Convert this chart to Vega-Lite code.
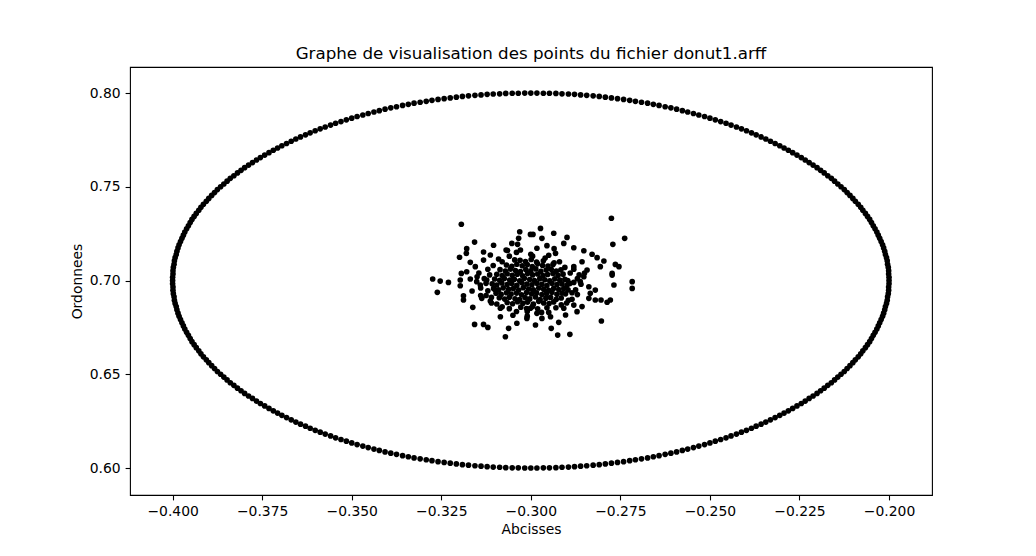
{
"$schema": "https://vega.github.io/schema/vega-lite/v6.json",
"width": 802, "height": 428,
"autosize": {"type": "none"},
"padding": {"left": 130, "top": 67, "right": 104, "bottom": 61},
"background": "white",
"title": {"text": "Graphe de visualisation des points du fichier donut1.arff", "font": "DejaVu Sans", "fontSize": 16.7, "fontWeight": "normal", "color": "black", "offset": 4.5, "anchor": "middle"},
"config": {
 "view": {"stroke": "black", "strokeWidth": 1.1},
 "axis": {"domain": false, "grid": false, "labelFont": "DejaVu Sans", "labelFontSize": 13.9, "labelColor": "black", "tickColor": "black", "tickSize": 4.9, "tickWidth": 1.1, "labelPadding": 4.9, "labelOverlap": false, "titleFont": "DejaVu Sans", "titleFontSize": 13.9, "titleFontWeight": "normal", "titleColor": "black"}
},
"data": {"values": [
{"x":-0.2,"y":0.7},{"x":-0.4,"y":0.7},
{"x":-0.2,"y":0.7017},{"x":-0.4,"y":0.7017},{"x":-0.4,"y":0.6983},{"x":-0.2,"y":0.6983},
{"x":-0.2001,"y":0.7035},{"x":-0.3999,"y":0.7035},{"x":-0.3999,"y":0.6965},{"x":-0.2001,"y":0.6965},
{"x":-0.2001,"y":0.7052},{"x":-0.3999,"y":0.7052},{"x":-0.3999,"y":0.6948},{"x":-0.2001,"y":0.6948},
{"x":-0.2002,"y":0.707},{"x":-0.3998,"y":0.707},{"x":-0.3998,"y":0.693},{"x":-0.2002,"y":0.693},
{"x":-0.2004,"y":0.7087},{"x":-0.3996,"y":0.7087},{"x":-0.3996,"y":0.6913},{"x":-0.2004,"y":0.6913},
{"x":-0.2005,"y":0.7105},{"x":-0.3995,"y":0.7105},{"x":-0.3995,"y":0.6895},{"x":-0.2005,"y":0.6895},
{"x":-0.2007,"y":0.7122},{"x":-0.3993,"y":0.7122},{"x":-0.3993,"y":0.6878},{"x":-0.2007,"y":0.6878},
{"x":-0.201,"y":0.7139},{"x":-0.399,"y":0.7139},{"x":-0.399,"y":0.6861},{"x":-0.201,"y":0.6861},
{"x":-0.2012,"y":0.7156},{"x":-0.3988,"y":0.7156},{"x":-0.3988,"y":0.6844},{"x":-0.2012,"y":0.6844},
{"x":-0.2015,"y":0.7174},{"x":-0.3985,"y":0.7174},{"x":-0.3985,"y":0.6826},{"x":-0.2015,"y":0.6826},
{"x":-0.2018,"y":0.7191},{"x":-0.3982,"y":0.7191},{"x":-0.3982,"y":0.6809},{"x":-0.2018,"y":0.6809},
{"x":-0.2022,"y":0.7208},{"x":-0.3978,"y":0.7208},{"x":-0.3978,"y":0.6792},{"x":-0.2022,"y":0.6792},
{"x":-0.2026,"y":0.7225},{"x":-0.3974,"y":0.7225},{"x":-0.3974,"y":0.6775},{"x":-0.2026,"y":0.6775},
{"x":-0.203,"y":0.7242},{"x":-0.397,"y":0.7242},{"x":-0.397,"y":0.6758},{"x":-0.203,"y":0.6758},
{"x":-0.2034,"y":0.7259},{"x":-0.3966,"y":0.7259},{"x":-0.3966,"y":0.6741},{"x":-0.2034,"y":0.6741},
{"x":-0.2039,"y":0.7276},{"x":-0.3961,"y":0.7276},{"x":-0.3961,"y":0.6724},{"x":-0.2039,"y":0.6724},
{"x":-0.2044,"y":0.7292},{"x":-0.3956,"y":0.7292},{"x":-0.3956,"y":0.6708},{"x":-0.2044,"y":0.6708},
{"x":-0.2049,"y":0.7309},{"x":-0.3951,"y":0.7309},{"x":-0.3951,"y":0.6691},{"x":-0.2049,"y":0.6691},
{"x":-0.2054,"y":0.7326},{"x":-0.3946,"y":0.7326},{"x":-0.3946,"y":0.6674},{"x":-0.2054,"y":0.6674},
{"x":-0.206,"y":0.7342},{"x":-0.394,"y":0.7342},{"x":-0.394,"y":0.6658},{"x":-0.206,"y":0.6658},
{"x":-0.2066,"y":0.7358},{"x":-0.3934,"y":0.7358},{"x":-0.3934,"y":0.6642},{"x":-0.2066,"y":0.6642},
{"x":-0.2073,"y":0.7375},{"x":-0.3927,"y":0.7375},{"x":-0.3927,"y":0.6625},{"x":-0.2073,"y":0.6625},
{"x":-0.2079,"y":0.7391},{"x":-0.3921,"y":0.7391},{"x":-0.3921,"y":0.6609},{"x":-0.2079,"y":0.6609},
{"x":-0.2086,"y":0.7407},{"x":-0.3914,"y":0.7407},{"x":-0.3914,"y":0.6593},{"x":-0.2086,"y":0.6593},
{"x":-0.2094,"y":0.7423},{"x":-0.3906,"y":0.7423},{"x":-0.3906,"y":0.6577},{"x":-0.2094,"y":0.6577},
{"x":-0.2101,"y":0.7438},{"x":-0.3899,"y":0.7438},{"x":-0.3899,"y":0.6562},{"x":-0.2101,"y":0.6562},
{"x":-0.2109,"y":0.7454},{"x":-0.3891,"y":0.7454},{"x":-0.3891,"y":0.6546},{"x":-0.2109,"y":0.6546},
{"x":-0.2117,"y":0.7469},{"x":-0.3883,"y":0.7469},{"x":-0.3883,"y":0.6531},{"x":-0.2117,"y":0.6531},
{"x":-0.2125,"y":0.7485},{"x":-0.3875,"y":0.7485},{"x":-0.3875,"y":0.6515},{"x":-0.2125,"y":0.6515},
{"x":-0.2134,"y":0.75},{"x":-0.3866,"y":0.75},{"x":-0.3866,"y":0.65},{"x":-0.2134,"y":0.65},
{"x":-0.2143,"y":0.7515},{"x":-0.3857,"y":0.7515},{"x":-0.3857,"y":0.6485},{"x":-0.2143,"y":0.6485},
{"x":-0.2152,"y":0.753},{"x":-0.3848,"y":0.753},{"x":-0.3848,"y":0.647},{"x":-0.2152,"y":0.647},
{"x":-0.2161,"y":0.7545},{"x":-0.3839,"y":0.7545},{"x":-0.3839,"y":0.6455},{"x":-0.2161,"y":0.6455},
{"x":-0.2171,"y":0.7559},{"x":-0.3829,"y":0.7559},{"x":-0.3829,"y":0.6441},{"x":-0.2171,"y":0.6441},
{"x":-0.2181,"y":0.7574},{"x":-0.3819,"y":0.7574},{"x":-0.3819,"y":0.6426},{"x":-0.2181,"y":0.6426},
{"x":-0.2191,"y":0.7588},{"x":-0.3809,"y":0.7588},{"x":-0.3809,"y":0.6412},{"x":-0.2191,"y":0.6412},
{"x":-0.2201,"y":0.7602},{"x":-0.3799,"y":0.7602},{"x":-0.3799,"y":0.6398},{"x":-0.2201,"y":0.6398},
{"x":-0.2212,"y":0.7616},{"x":-0.3788,"y":0.7616},{"x":-0.3788,"y":0.6384},{"x":-0.2212,"y":0.6384},
{"x":-0.2223,"y":0.7629},{"x":-0.3777,"y":0.7629},{"x":-0.3777,"y":0.6371},{"x":-0.2223,"y":0.6371},
{"x":-0.2234,"y":0.7643},{"x":-0.3766,"y":0.7643},{"x":-0.3766,"y":0.6357},{"x":-0.2234,"y":0.6357},
{"x":-0.2245,"y":0.7656},{"x":-0.3755,"y":0.7656},{"x":-0.3755,"y":0.6344},{"x":-0.2245,"y":0.6344},
{"x":-0.2257,"y":0.7669},{"x":-0.3743,"y":0.7669},{"x":-0.3743,"y":0.6331},{"x":-0.2257,"y":0.6331},
{"x":-0.2269,"y":0.7682},{"x":-0.3731,"y":0.7682},{"x":-0.3731,"y":0.6318},{"x":-0.2269,"y":0.6318},
{"x":-0.2281,"y":0.7695},{"x":-0.3719,"y":0.7695},{"x":-0.3719,"y":0.6305},{"x":-0.2281,"y":0.6305},
{"x":-0.2293,"y":0.7707},{"x":-0.3707,"y":0.7707},{"x":-0.3707,"y":0.6293},{"x":-0.2293,"y":0.6293},
{"x":-0.2305,"y":0.7719},{"x":-0.3695,"y":0.7719},{"x":-0.3695,"y":0.6281},{"x":-0.2305,"y":0.6281},
{"x":-0.2318,"y":0.7731},{"x":-0.3682,"y":0.7731},{"x":-0.3682,"y":0.6269},{"x":-0.2318,"y":0.6269},
{"x":-0.2331,"y":0.7743},{"x":-0.3669,"y":0.7743},{"x":-0.3669,"y":0.6257},{"x":-0.2331,"y":0.6257},
{"x":-0.2344,"y":0.7755},{"x":-0.3656,"y":0.7755},{"x":-0.3656,"y":0.6245},{"x":-0.2344,"y":0.6245},
{"x":-0.2357,"y":0.7766},{"x":-0.3643,"y":0.7766},{"x":-0.3643,"y":0.6234},{"x":-0.2357,"y":0.6234},
{"x":-0.2371,"y":0.7777},{"x":-0.3629,"y":0.7777},{"x":-0.3629,"y":0.6223},{"x":-0.2371,"y":0.6223},
{"x":-0.2384,"y":0.7788},{"x":-0.3616,"y":0.7788},{"x":-0.3616,"y":0.6212},{"x":-0.2384,"y":0.6212},
{"x":-0.2398,"y":0.7799},{"x":-0.3602,"y":0.7799},{"x":-0.3602,"y":0.6201},{"x":-0.2398,"y":0.6201},
{"x":-0.2412,"y":0.7809},{"x":-0.3588,"y":0.7809},{"x":-0.3588,"y":0.6191},{"x":-0.2412,"y":0.6191},
{"x":-0.2426,"y":0.7819},{"x":-0.3574,"y":0.7819},{"x":-0.3574,"y":0.6181},{"x":-0.2426,"y":0.6181},
{"x":-0.2441,"y":0.7829},{"x":-0.3559,"y":0.7829},{"x":-0.3559,"y":0.6171},{"x":-0.2441,"y":0.6171},
{"x":-0.2455,"y":0.7839},{"x":-0.3545,"y":0.7839},{"x":-0.3545,"y":0.6161},{"x":-0.2455,"y":0.6161},
{"x":-0.247,"y":0.7848},{"x":-0.353,"y":0.7848},{"x":-0.353,"y":0.6152},{"x":-0.247,"y":0.6152},
{"x":-0.2485,"y":0.7857},{"x":-0.3515,"y":0.7857},{"x":-0.3515,"y":0.6143},{"x":-0.2485,"y":0.6143},
{"x":-0.25,"y":0.7866},{"x":-0.35,"y":0.7866},{"x":-0.35,"y":0.6134},{"x":-0.25,"y":0.6134},
{"x":-0.2515,"y":0.7875},{"x":-0.3485,"y":0.7875},{"x":-0.3485,"y":0.6125},{"x":-0.2515,"y":0.6125},
{"x":-0.2531,"y":0.7883},{"x":-0.3469,"y":0.7883},{"x":-0.3469,"y":0.6117},{"x":-0.2531,"y":0.6117},
{"x":-0.2546,"y":0.7891},{"x":-0.3454,"y":0.7891},{"x":-0.3454,"y":0.6109},{"x":-0.2546,"y":0.6109},
{"x":-0.2562,"y":0.7899},{"x":-0.3438,"y":0.7899},{"x":-0.3438,"y":0.6101},{"x":-0.2562,"y":0.6101},
{"x":-0.2577,"y":0.7906},{"x":-0.3423,"y":0.7906},{"x":-0.3423,"y":0.6094},{"x":-0.2577,"y":0.6094},
{"x":-0.2593,"y":0.7914},{"x":-0.3407,"y":0.7914},{"x":-0.3407,"y":0.6086},{"x":-0.2593,"y":0.6086},
{"x":-0.2609,"y":0.7921},{"x":-0.3391,"y":0.7921},{"x":-0.3391,"y":0.6079},{"x":-0.2609,"y":0.6079},
{"x":-0.2625,"y":0.7927},{"x":-0.3375,"y":0.7927},{"x":-0.3375,"y":0.6073},{"x":-0.2625,"y":0.6073},
{"x":-0.2642,"y":0.7934},{"x":-0.3358,"y":0.7934},{"x":-0.3358,"y":0.6066},{"x":-0.2642,"y":0.6066},
{"x":-0.2658,"y":0.794},{"x":-0.3342,"y":0.794},{"x":-0.3342,"y":0.606},{"x":-0.2658,"y":0.606},
{"x":-0.2674,"y":0.7946},{"x":-0.3326,"y":0.7946},{"x":-0.3326,"y":0.6054},{"x":-0.2674,"y":0.6054},
{"x":-0.2691,"y":0.7951},{"x":-0.3309,"y":0.7951},{"x":-0.3309,"y":0.6049},{"x":-0.2691,"y":0.6049},
{"x":-0.2708,"y":0.7956},{"x":-0.3292,"y":0.7956},{"x":-0.3292,"y":0.6044},{"x":-0.2708,"y":0.6044},
{"x":-0.2724,"y":0.7961},{"x":-0.3276,"y":0.7961},{"x":-0.3276,"y":0.6039},{"x":-0.2724,"y":0.6039},
{"x":-0.2741,"y":0.7966},{"x":-0.3259,"y":0.7966},{"x":-0.3259,"y":0.6034},{"x":-0.2741,"y":0.6034},
{"x":-0.2758,"y":0.797},{"x":-0.3242,"y":0.797},{"x":-0.3242,"y":0.603},{"x":-0.2758,"y":0.603},
{"x":-0.2775,"y":0.7974},{"x":-0.3225,"y":0.7974},{"x":-0.3225,"y":0.6026},{"x":-0.2775,"y":0.6026},
{"x":-0.2792,"y":0.7978},{"x":-0.3208,"y":0.7978},{"x":-0.3208,"y":0.6022},{"x":-0.2792,"y":0.6022},
{"x":-0.2809,"y":0.7982},{"x":-0.3191,"y":0.7982},{"x":-0.3191,"y":0.6018},{"x":-0.2809,"y":0.6018},
{"x":-0.2826,"y":0.7985},{"x":-0.3174,"y":0.7985},{"x":-0.3174,"y":0.6015},{"x":-0.2826,"y":0.6015},
{"x":-0.2844,"y":0.7988},{"x":-0.3156,"y":0.7988},{"x":-0.3156,"y":0.6012},{"x":-0.2844,"y":0.6012},
{"x":-0.2861,"y":0.799},{"x":-0.3139,"y":0.799},{"x":-0.3139,"y":0.601},{"x":-0.2861,"y":0.601},
{"x":-0.2878,"y":0.7993},{"x":-0.3122,"y":0.7993},{"x":-0.3122,"y":0.6007},{"x":-0.2878,"y":0.6007},
{"x":-0.2895,"y":0.7995},{"x":-0.3105,"y":0.7995},{"x":-0.3105,"y":0.6005},{"x":-0.2895,"y":0.6005},
{"x":-0.2913,"y":0.7996},{"x":-0.3087,"y":0.7996},{"x":-0.3087,"y":0.6004},{"x":-0.2913,"y":0.6004},
{"x":-0.293,"y":0.7998},{"x":-0.307,"y":0.7998},{"x":-0.307,"y":0.6002},{"x":-0.293,"y":0.6002},
{"x":-0.2948,"y":0.7999},{"x":-0.3052,"y":0.7999},{"x":-0.3052,"y":0.6001},{"x":-0.2948,"y":0.6001},
{"x":-0.2965,"y":0.7999},{"x":-0.3035,"y":0.7999},{"x":-0.3035,"y":0.6001},{"x":-0.2965,"y":0.6001},
{"x":-0.2983,"y":0.8},{"x":-0.3017,"y":0.8},{"x":-0.3017,"y":0.6},{"x":-0.2983,"y":0.6},
{"x":-0.3,"y":0.8},{"x":-0.3,"y":0.6},
{"x":-0.3194,"y":0.73},{"x":-0.3031,"y":0.726},{"x":-0.3001,"y":0.7246},{"x":-0.3034,"y":0.7225},{"x":-0.3157,"y":0.7205},{"x":-0.3053,"y":0.7198},{"x":-0.3037,"y":0.7193},{"x":-0.3104,"y":0.7188},{"x":-0.3179,"y":0.717},{"x":-0.318,"y":0.7145},{"x":-0.3132,"y":0.7152},{"x":-0.3069,"y":0.7163},{"x":-0.3029,"y":0.7163},{"x":-0.3199,"y":0.7124},{"x":-0.3113,"y":0.7136},{"x":-0.3132,"y":0.7109},{"x":-0.3169,"y":0.7097},{"x":-0.3155,"y":0.7074},{"x":-0.3194,"y":0.7038},{"x":-0.3179,"y":0.7047},
{"x":-0.2775,"y":0.7332},{"x":-0.2738,"y":0.7225},{"x":-0.2771,"y":0.7193},{"x":-0.2973,"y":0.7278},{"x":-0.2994,"y":0.7246},{"x":-0.2936,"y":0.7252},{"x":-0.2969,"y":0.7225},{"x":-0.2899,"y":0.723},{"x":-0.2908,"y":0.7198},{"x":-0.2955,"y":0.7186},{"x":-0.288,"y":0.7175},{"x":-0.2852,"y":0.7159},{"x":-0.2829,"y":0.714},{"x":-0.2815,"y":0.7122},{"x":-0.2796,"y":0.7104},{"x":-0.2764,"y":0.7086},{"x":-0.2754,"y":0.7074},{"x":-0.2806,"y":0.7074},{"x":-0.2773,"y":0.7038},{"x":-0.2857,"y":0.71},{"x":-0.2843,"y":0.7056},{"x":-0.288,"y":0.7074},{"x":-0.2931,"y":0.7145},{"x":-0.2983,"y":0.7172},
{"x":-0.3274,"y":0.7008},{"x":-0.3253,"y":0.6997},{"x":-0.323,"y":0.699},{"x":-0.3261,"y":0.6937},{"x":-0.3197,"y":0.7003},{"x":-0.3197,"y":0.6972},{"x":-0.3169,"y":0.7008},{"x":-0.3164,"y":0.6944},{"x":-0.3188,"y":0.6919},{"x":-0.3188,"y":0.6896},{"x":-0.3141,"y":0.6976},{"x":-0.3137,"y":0.6905},{"x":-0.3113,"y":0.6891},{"x":-0.3162,"y":0.6857},{"x":-0.3157,"y":0.6766},{"x":-0.3132,"y":0.6766},{"x":-0.312,"y":0.675},{"x":-0.3071,"y":0.67},{"x":-0.3039,"y":0.6772},{"x":-0.3062,"y":0.6745},{"x":-0.3085,"y":0.6807},{"x":-0.3085,"y":0.6852},{"x":-0.3011,"y":0.6798},{"x":-0.3099,"y":0.6949},{"x":-0.3123,"y":0.7003},{"x":-0.3151,"y":0.6994},
{"x":-0.2717,"y":0.6994},{"x":-0.2717,"y":0.6958},{"x":-0.2768,"y":0.6976},{"x":-0.2773,"y":0.7029},{"x":-0.2778,"y":0.6896},{"x":-0.2787,"y":0.6884},{"x":-0.2804,"y":0.6896},{"x":-0.282,"y":0.6896},{"x":-0.2838,"y":0.6905},{"x":-0.2834,"y":0.6932},{"x":-0.282,"y":0.6949},{"x":-0.2838,"y":0.6967},{"x":-0.2862,"y":0.6994},{"x":-0.2852,"y":0.702},{"x":-0.2803,"y":0.6784},{"x":-0.2891,"y":0.6713},{"x":-0.2925,"y":0.6709},{"x":-0.2943,"y":0.6745},{"x":-0.2922,"y":0.6777},{"x":-0.2987,"y":0.6763},{"x":-0.2969,"y":0.6798},{"x":-0.2945,"y":0.6807},{"x":-0.2903,"y":0.6816},{"x":-0.2983,"y":0.6825},{"x":-0.2871,"y":0.6834},{"x":-0.2857,"y":0.6861},{"x":-0.288,"y":0.6869},{"x":-0.2908,"y":0.6852},{"x":-0.3001,"y":0.6852},
{"x":-0.3125,"y":0.692},{"x":-0.313,"y":0.701},{"x":-0.312,"y":0.706},{"x":-0.309,"y":0.7115},{"x":-0.306,"y":0.713},{"x":-0.296,"y":0.712},{"x":-0.292,"y":0.71},{"x":-0.288,"y":0.706},{"x":-0.287,"y":0.701},{"x":-0.2875,"y":0.695},{"x":-0.2885,"y":0.69},{"x":-0.293,"y":0.6855},{"x":-0.297,"y":0.683},{"x":-0.304,"y":0.6835},{"x":-0.308,"y":0.686},{"x":-0.311,"y":0.688},{"x":-0.314,"y":0.696},{"x":-0.3145,"y":0.704},{"x":-0.286,"y":0.698},{"x":-0.285,"y":0.704},{"x":-0.3,"y":0.714},{"x":-0.304,"y":0.715},{"x":-0.29,"y":0.688},{"x":-0.301,"y":0.681},{"x":-0.295,"y":0.7135},
{"x":-0.3125,"y":0.6985},{"x":-0.312,"y":0.6945},{"x":-0.3115,"y":0.703},{"x":-0.3105,"y":0.708},{"x":-0.308,"y":0.71},{"x":-0.3045,"y":0.711},{"x":-0.2965,"y":0.7105},{"x":-0.2935,"y":0.7095},{"x":-0.2905,"y":0.707},{"x":-0.289,"y":0.704},{"x":-0.288,"y":0.699},{"x":-0.2885,"y":0.6935},{"x":-0.2895,"y":0.6895},{"x":-0.2915,"y":0.687},{"x":-0.2955,"y":0.6855},{"x":-0.306,"y":0.685},{"x":-0.3095,"y":0.6875},{"x":-0.311,"y":0.691},{"x":-0.301,"y":0.6835},{"x":-0.2995,"y":0.713},{"x":-0.3065,"y":0.716},{"x":-0.2935,"y":0.717},{"x":-0.2865,"y":0.703},{"x":-0.287,"y":0.6925},{"x":-0.314,"y":0.692},{"x":-0.315,"y":0.702},{"x":-0.295,"y":0.683},{"x":-0.305,"y":0.6815},
{"x":-0.3028,"y":0.6858},{"x":-0.3012,"y":0.6851},{"x":-0.2995,"y":0.6862},{"x":-0.2981,"y":0.6849},
{"x":-0.3066,"y":0.6883},{"x":-0.3051,"y":0.6876},{"x":-0.3037,"y":0.6887},{"x":-0.3022,"y":0.6879},{"x":-0.3009,"y":0.6885},{"x":-0.2993,"y":0.6874},{"x":-0.2978,"y":0.6889},{"x":-0.2964,"y":0.688},{"x":-0.2949,"y":0.6877},{"x":-0.2936,"y":0.6886},
{"x":-0.3088,"y":0.6908},{"x":-0.3073,"y":0.6901},{"x":-0.306,"y":0.6911},{"x":-0.3044,"y":0.6903},{"x":-0.3031,"y":0.6898},{"x":-0.3016,"y":0.6909},{"x":-0.3003,"y":0.6902},{"x":-0.2987,"y":0.6912},{"x":-0.2974,"y":0.6899},{"x":-0.2958,"y":0.6906},{"x":-0.2945,"y":0.691},{"x":-0.2929,"y":0.69},{"x":-0.2915,"y":0.6907},
{"x":-0.3097,"y":0.6932},{"x":-0.3083,"y":0.6926},{"x":-0.3068,"y":0.6935},{"x":-0.3055,"y":0.6928},{"x":-0.304,"y":0.6933},{"x":-0.3026,"y":0.6924},{"x":-0.3012,"y":0.6936},{"x":-0.2998,"y":0.6929},{"x":-0.2984,"y":0.6934},{"x":-0.2969,"y":0.6925},{"x":-0.2956,"y":0.6931},{"x":-0.2941,"y":0.6937},{"x":-0.2927,"y":0.6927},{"x":-0.2913,"y":0.6933},{"x":-0.2903,"y":0.6929},
{"x":-0.3104,"y":0.6958},{"x":-0.309,"y":0.695},{"x":-0.3077,"y":0.6961},{"x":-0.3062,"y":0.6953},{"x":-0.3049,"y":0.6957},{"x":-0.3034,"y":0.6949},{"x":-0.3021,"y":0.6962},{"x":-0.3006,"y":0.6955},{"x":-0.2993,"y":0.6951},{"x":-0.2978,"y":0.696},{"x":-0.2964,"y":0.6954},{"x":-0.295,"y":0.6948},{"x":-0.2936,"y":0.6959},{"x":-0.2922,"y":0.6952},{"x":-0.2908,"y":0.6957},{"x":-0.2896,"y":0.695},
{"x":-0.3108,"y":0.6983},{"x":-0.3095,"y":0.6976},{"x":-0.3081,"y":0.6987},{"x":-0.3066,"y":0.6979},{"x":-0.3053,"y":0.6984},{"x":-0.3039,"y":0.6974},{"x":-0.3025,"y":0.6988},{"x":-0.3011,"y":0.6981},{"x":-0.2997,"y":0.6977},{"x":-0.2983,"y":0.6986},{"x":-0.2969,"y":0.698},{"x":-0.2955,"y":0.6973},{"x":-0.2941,"y":0.6985},{"x":-0.2927,"y":0.6978},{"x":-0.2913,"y":0.6982},{"x":-0.2899,"y":0.6975},{"x":-0.2891,"y":0.6984},
{"x":-0.3101,"y":0.7008},{"x":-0.3087,"y":0.7001},{"x":-0.3074,"y":0.7011},{"x":-0.3059,"y":0.7003},{"x":-0.3046,"y":0.7007},{"x":-0.3031,"y":0.6999},{"x":-0.3018,"y":0.7012},{"x":-0.3003,"y":0.7005},{"x":-0.299,"y":0.7},{"x":-0.2975,"y":0.701},{"x":-0.2961,"y":0.7004},{"x":-0.2947,"y":0.6998},{"x":-0.2933,"y":0.7009},{"x":-0.2919,"y":0.7002},{"x":-0.2905,"y":0.7006},{"x":-0.2897,"y":0.7},
{"x":-0.3095,"y":0.7033},{"x":-0.308,"y":0.7027},{"x":-0.3066,"y":0.7036},{"x":-0.3052,"y":0.7028},{"x":-0.3038,"y":0.7034},{"x":-0.3023,"y":0.7025},{"x":-0.3009,"y":0.7037},{"x":-0.2995,"y":0.703},{"x":-0.2981,"y":0.7035},{"x":-0.2966,"y":0.7026},{"x":-0.2953,"y":0.7032},{"x":-0.2938,"y":0.7038},{"x":-0.2924,"y":0.7028},{"x":-0.291,"y":0.7034},
{"x":-0.3086,"y":0.7058},{"x":-0.3071,"y":0.7051},{"x":-0.3057,"y":0.7061},{"x":-0.3043,"y":0.7053},{"x":-0.3029,"y":0.7048},{"x":-0.3014,"y":0.7059},{"x":-0.3,"y":0.7052},{"x":-0.2986,"y":0.7062},{"x":-0.2972,"y":0.7049},{"x":-0.2957,"y":0.7056},{"x":-0.2943,"y":0.706},{"x":-0.2929,"y":0.705},{"x":-0.2916,"y":0.7057},
{"x":-0.3068,"y":0.7083},{"x":-0.3053,"y":0.7076},{"x":-0.3039,"y":0.7087},{"x":-0.3024,"y":0.7079},{"x":-0.301,"y":0.7085},{"x":-0.2996,"y":0.7074},{"x":-0.2981,"y":0.7089},{"x":-0.2967,"y":0.708},{"x":-0.2952,"y":0.7077},{"x":-0.2938,"y":0.7086},
{"x":-0.303,"y":0.7108},{"x":-0.3015,"y":0.7101},{"x":-0.2999,"y":0.7112},{"x":-0.2984,"y":0.7099}
]},
"mark": {"type": "point", "filled": true, "color": "black", "size": 32, "opacity": 1},
"encoding": {
 "x": {"field": "x", "type": "quantitative", "scale": {"domain": [-0.4119, -0.188], "nice": false, "zero": false}, "axis": {"title": "Abcisses", "values": [-0.4, -0.375, -0.35, -0.325, -0.3, -0.275, -0.25, -0.225, -0.2], "format": ".3f", "titlePadding": 3.5}},
 "y": {"field": "y", "type": "quantitative", "scale": {"domain": [0.5856, 0.8139], "nice": false, "zero": false}, "axis": {"title": "Ordonnees", "values": [0.6, 0.65, 0.7, 0.75, 0.8], "format": ".2f", "titlePadding": 5}}
}
}
